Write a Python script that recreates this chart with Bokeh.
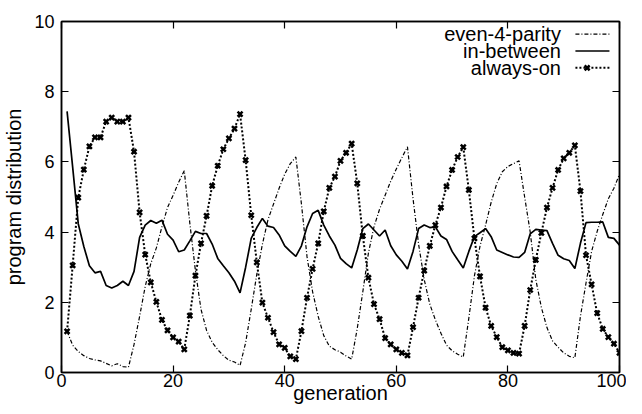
from bokeh.plotting import figure
from bokeh.models import LinearAxis, FixedTicker, Range1d
from bokeh.core.properties import value
from bokeh.embed import file_html
from bokeh.resources import INLINE

generation = list(range(1, 101))

even_4_parity = [
    1.17, 0.78, 0.60, 0.48, 0.40, 0.36, 0.33, 0.26, 0.19, 0.25,
    0.17, 0.15, 0.80, 1.60, 2.45, 3.10, 3.55, 4.15, 4.70, 5.05,
    5.42, 5.75, 4.25, 2.90, 1.80, 1.20, 0.86, 0.65, 0.48, 0.35,
    0.30, 0.20, 0.85, 1.80, 2.80, 3.65, 4.35, 4.80, 5.25, 5.65,
    5.95, 6.14, 4.80, 3.30, 2.30, 1.60, 1.05, 0.75, 0.65, 0.58,
    0.47, 0.38, 1.25, 2.30, 3.40, 4.15, 4.65, 5.05, 5.45, 5.80,
    6.12, 6.43, 4.95, 3.65, 2.65, 1.95, 1.50, 1.12, 0.78, 0.62,
    0.52, 0.44, 1.55, 2.75, 3.60, 4.20, 4.85, 5.38, 5.72, 5.87,
    5.95, 6.03, 5.00, 4.00, 2.65, 1.85, 1.28, 0.90, 0.72, 0.56,
    0.46, 0.42, 1.60, 2.55, 3.45, 4.02, 4.50, 4.95, 5.25, 5.65,
]

in_between = [
    7.44, 5.85, 4.24, 3.59, 3.04, 2.84, 2.88, 2.48, 2.41, 2.48,
    2.60, 2.48, 2.88, 3.85, 4.20, 4.33, 4.25, 4.34, 3.94, 3.77,
    3.44, 3.49, 3.75, 4.02, 3.96, 3.96, 3.66, 3.25, 3.04, 2.84,
    2.60, 2.27, 3.00, 3.82, 4.13, 4.39, 4.17, 4.13, 3.92, 3.61,
    3.45, 3.31, 3.61, 4.15, 4.53, 4.62, 4.20, 3.89, 3.63, 3.25,
    3.10, 2.98, 3.49, 4.10, 4.23, 4.06, 3.89, 4.06, 3.61, 3.35,
    3.17, 2.95, 3.45, 4.10, 4.20, 4.13, 4.15, 3.89, 3.79, 3.45,
    3.21, 2.98, 3.45, 3.87, 3.98, 4.10, 3.87, 3.49, 3.42, 3.35,
    3.29, 3.28, 3.42, 3.95, 4.08, 4.06, 4.04, 3.68, 3.34, 3.24,
    3.19, 2.96, 3.68, 4.27, 4.28, 4.28, 4.29, 3.85, 3.82, 3.63,
]

always_on = [
    1.17, 3.05, 4.98, 5.78, 6.44, 6.70, 6.70, 7.15, 7.26, 7.15,
    7.15, 7.26, 6.29, 4.56, 3.36, 2.57, 2.01, 1.50, 1.20, 1.00,
    0.88, 0.66, 1.62, 2.76, 3.68, 4.46, 5.32, 5.89, 6.36, 6.67,
    6.95, 7.36, 6.05, 4.48, 3.14, 1.99, 1.56, 1.15, 0.80, 0.70,
    0.46, 0.38, 1.18, 2.13, 2.95, 3.68, 4.59, 5.26, 5.58, 6.03,
    6.26, 6.52, 5.39, 3.89, 2.70, 1.95, 1.52, 0.98, 0.80, 0.66,
    0.56, 0.49, 1.29, 2.13, 2.90, 3.61, 4.20, 4.70, 5.30, 5.77,
    6.14, 6.42, 5.20, 3.82, 2.74, 1.85, 1.33, 1.01, 0.72, 0.63,
    0.56, 0.54, 1.33, 2.35, 3.21, 3.98, 4.70, 5.26, 5.77, 6.10,
    6.26, 6.47, 5.17, 3.34, 2.51, 1.69, 1.24, 1.01, 0.82, 0.56,
]

x_ticks = [0, 20, 40, 60, 80, 100]
y_ticks = [0, 2, 4, 6, 8, 10]
legend_labels = ["even-4-parity", "in-between", "always-on"]

FONT = "Liberation Sans"
TICK_FS = "18px"
LABEL_FS = "20px"

p = figure(width=626, height=406,
           x_range=Range1d(0, 100), y_range=Range1d(0, 10),
           output_backend="svg", toolbar_location=None,
           min_border_left=55, min_border_right=7,
           min_border_top=21, min_border_bottom=0,
           x_axis_label="generation", y_axis_label="program distribution")
p.grid.visible = False
p.outline_line_color = "black"
p.outline_line_width = 1.5
p.background_fill_color = "white"
p.border_fill_color = "white"


def style_axis(ax, ticks, show_labels):
    ax.ticker = FixedTicker(ticks=ticks)
    ax.major_tick_in = 7
    ax.major_tick_out = 0
    ax.minor_tick_in = 0
    ax.minor_tick_out = 0
    ax.major_tick_line_width = 1.2
    ax.axis_line_width = 1.5
    ax.axis_line_color = "black"
    ax.major_tick_line_color = "black"
    ax.major_label_text_font = FONT
    ax.major_label_text_color = "black"
    ax.major_label_text_font_size = TICK_FS
    ax.axis_label_text_font = FONT
    ax.axis_label_text_font_style = "normal"
    ax.axis_label_text_font_size = LABEL_FS
    ax.axis_label_text_color = "black"
    if not show_labels:
        ax.major_label_overrides = {t: "" for t in ticks}
        ax.major_label_standoff = 0


style_axis(p.below[0], x_ticks, True)
p.below[0].major_label_standoff = 1
p.below[0].axis_label_standoff = -8
style_axis(p.left[0], y_ticks, True)
p.left[0].major_label_standoff = 7
p.left[0].axis_label_standoff = 6

top = LinearAxis()
style_axis(top, x_ticks, False)
p.add_layout(top, "above")
right = LinearAxis()
style_axis(right, y_ticks, False)
p.add_layout(right, "right")

# series
p.line(generation, even_4_parity, line_color="black", line_width=1.2,
       line_dash="4 2 1 2")
p.line(generation, in_between, line_color="black", line_width=1.7)
p.line(generation, always_on, line_color="black", line_width=2.0,
       line_dash="2 2")
p.scatter(generation, always_on, marker="x", size=7, line_color="black",
          line_width=2.5)

# legend (gnuplot style: text, then sample on the right)
leg_y = [9.64, 9.16, 8.68]
p.text(x=[89.5] * 3, y=leg_y, text=legend_labels,
       text_align="right", text_baseline="middle",
       text_font=value(FONT), text_font_size=LABEL_FS, text_color="black")
p.line([92.1, 98.2], [leg_y[0]] * 2, line_color="black", line_width=1.2,
       line_dash="4 2 1 2")
p.line([92.1, 98.2], [leg_y[1]] * 2, line_color="black", line_width=1.7)
p.line([92.1, 98.2], [leg_y[2]] * 2, line_color="black", line_width=2.0,
       line_dash="2 2")
p.scatter([94.2], [leg_y[2]], marker="x", size=7, line_color="black",
          line_width=2.5)

open("out.html", "w").write(file_html(p, INLINE))
